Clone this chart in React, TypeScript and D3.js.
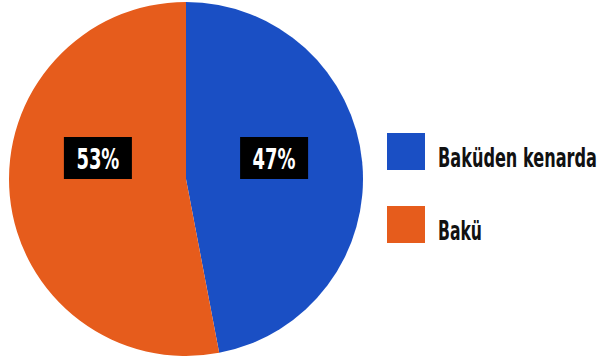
import React, { useLayoutEffect, useRef, useState } from "react";
import * as d3 from "d3";

const categories = ["Baküden kenarda", "Bakü"];
const values = [47, 53];
const colors = ["#1A4FC4", "#E65C1C"];

const W = 600;
const H = 364;
const cx = 186;
const cy = 179;
const R = 177;
const FONT = "'DejaVu Sans Condensed', Roboto, sans-serif";

function FitText(props: {
  x: number;
  y: number;
  width: number;
  fill: string;
  fontSize: number;
  children: string;
}) {
  const ref = useRef<SVGTextElement>(null);
  const [s, setS] = useState(1);
  useLayoutEffect(() => {
    if (ref.current) {
      const w = ref.current.getComputedTextLength();
      if (w > 0) setS(props.width / w);
    }
  }, [props.width, props.children]);
  return (
    <text
      ref={ref}
      transform={`translate(${props.x},${props.y}) scale(${s},1)`}
      fill={props.fill}
      fontFamily={FONT}
      fontWeight="bold"
      fontSize={props.fontSize}
    >
      {props.children}
    </text>
  );
}

export default function App() {
  const pie = d3.pie<number>().sort(null).value((d) => d)(values);
  const arc = d3.arc<d3.PieArcDatum<number>>().innerRadius(0).outerRadius(R);
  const labelArc = d3.arc<d3.PieArcDatum<number>>().innerRadius(R * 0.5).outerRadius(R * 0.5);
  const total = d3.sum(values);
  const legendY = d3.scalePoint<string>().domain(categories).range([151, 224]);
  const legendW = [159, 44];

  return (
    <svg width={W} height={H} style={{ position: "absolute", left: 0, top: 0, background: "#fff" }}>
      <g transform={`translate(${cx},${cy})`}>
        {pie.map((p, i) => (
          <path key={i} d={arc(p) || ""} fill={colors[i]} />
        ))}
        {pie.map((p, i) => {
          const [lx] = labelArc.centroid(p);
          const label = `${Math.round((values[i] / total) * 100)}%`;
          return (
            <g key={"l" + i} transform={`translate(${lx},${-21})`}>
              <rect x={-34} y={-21} width={68} height={42} fill="#000" />
              <FitText x={-21.5} y={10.5} width={43} fill="#fff" fontSize={29}>
                {label}
              </FitText>
            </g>
          );
        })}
      </g>
      {categories.map((c, i) => {
        const y = legendY(c) as number;
        return (
          <g key={"lg" + i}>
            <rect x={387} y={y - 18} width={38} height={37} fill={colors[i]} />
            <FitText x={438} y={y + 16} width={legendW[i]} fill="#111" fontSize={27}>
              {c}
            </FitText>
          </g>
        );
      })}
    </svg>
  );
}
